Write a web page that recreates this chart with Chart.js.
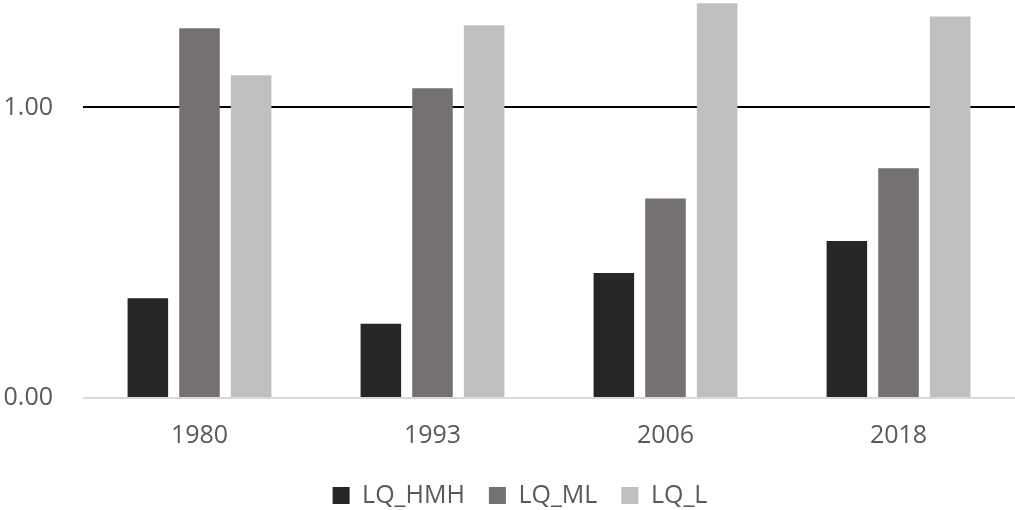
<!DOCTYPE html>
<html>
<head>
<meta charset="utf-8">
<script src="https://cdn.jsdelivr.net/npm/chart.js@4.4.0/dist/chart.umd.min.js"></script>
<style>
  html, body { margin: 0; padding: 0; background: #fff; }
  #wrap { width: 1015px; height: 510px; }
</style>
</head>
<body>
<div id="wrap"><canvas id="lqChart" width="1015" height="510"></canvas></div>
<script>
const years = ['1980', '1993', '2006', '2018'];
const lqHMH = [0.343, 0.256, 0.430, 0.540];
const lqML = [1.273, 1.066, 0.687, 0.791];
const lqL = [1.111, 1.283, 1.359, 1.313];
const yTicks = [0, 1];

const textColor = '#595959';
const fontFamily = "'Open Sans', 'Liberation Sans', sans-serif";

const ctx = document.getElementById('lqChart').getContext('2d');

function barSet(label, data, color) {
    return {
        label: label,
        data: data,
        backgroundColor: color,
        borderWidth: 0,
        categoryPercentage: 0.665,
        barPercentage: 0.785
    };
}

// legend sits a little right of the canvas centre
const legendShift = {
    id: 'legendShift',
    afterLayout: function(chart) {
        chart.legend.left += 12.5;
        chart.legend.right += 12.5;
    }
};

const lqChart = new Chart(ctx, {
    type: 'bar',
    data: {
        labels: years,
        datasets: [
            barSet('LQ_HMH', lqHMH, '#262626'),
            barSet('LQ_ML', lqML, '#757171'),
            barSet('LQ_L', lqL, '#bfbfbf')
        ]
    },
    plugins: [legendShift],
    options: {
        responsive: false,
        animation: false,
        layout: { padding: { top: 0, right: 0, bottom: -8, left: 0 } },
        scales: {
            x: {
                grid: { display: false, drawTicks: false },
                border: { display: false },
                ticks: {
                    color: textColor,
                    font: { family: fontFamily, size: 25 },
                    padding: 23
                },
                afterFit: function(scale) {
                    scale.height = 61;
                }
            },
            y: {
                min: 0,
                max: 1.37,
                border: { display: false },
                grid: {
                    drawTicks: false,
                    lineWidth: 2,
                    color: function(c) {
                        return c.tick && c.tick.value === 0 ? '#d9d9d9' : '#000000';
                    }
                },
                ticks: {
                    color: textColor,
                    font: { family: fontFamily, size: 25 },
                    padding: 30,
                    callback: function(value) { return value.toFixed(2); }
                },
                afterBuildTicks: function(scale) {
                    scale.ticks = yTicks.map(v => ({ value: v }));
                },
                afterFit: function(scale) {
                    scale.width = 83;
                    scale.paddingTop = 0;
                    scale.paddingBottom = 0;
                }
            }
        },
        plugins: {
            legend: {
                position: 'bottom',
                labels: {
                    color: textColor,
                    font: { family: fontFamily, size: 25 },
                    boxWidth: 17,
                    boxHeight: 17,
                    padding: 24
                }
            },
            tooltip: { enabled: false }
        }
    }
});
</script>
</body>
</html>
